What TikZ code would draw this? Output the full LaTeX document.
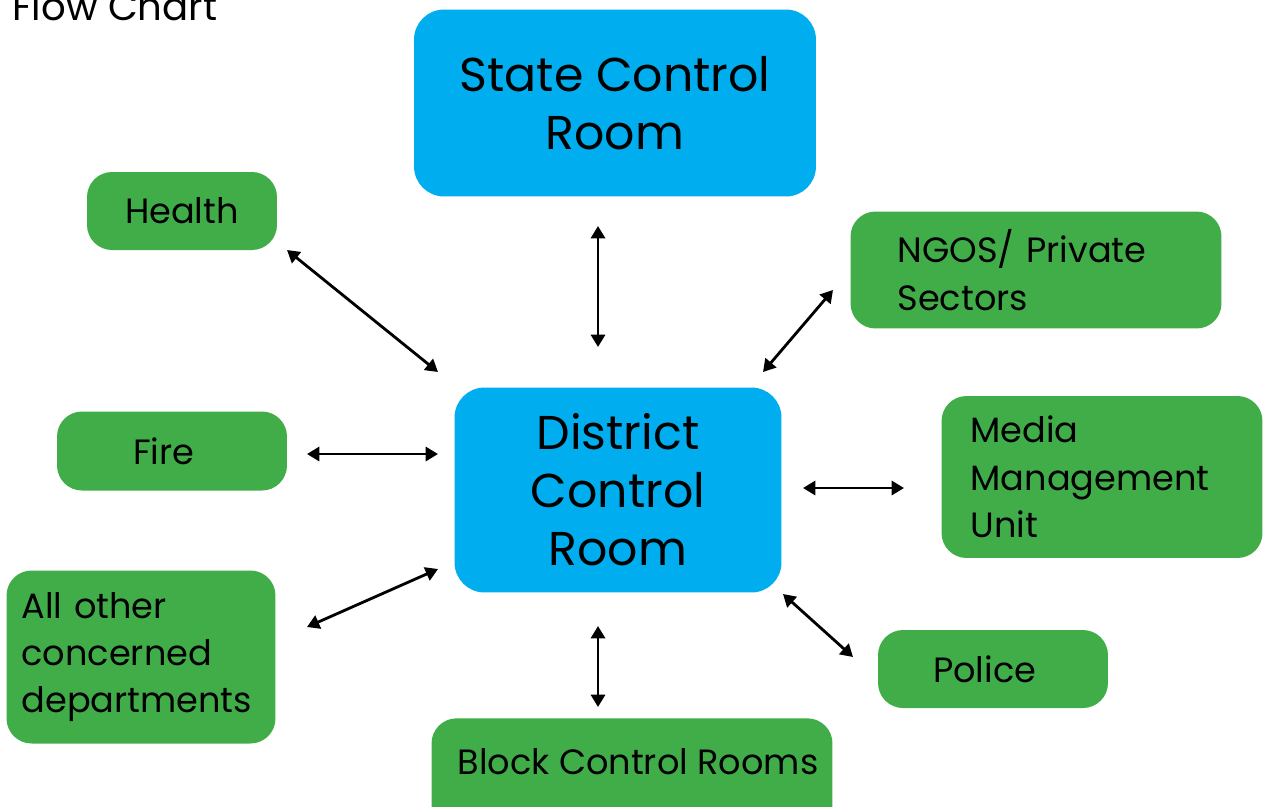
\documentclass[tikz,border=0pt]{standalone}
\usepackage{fontspec}
\setmainfont{Poppins}
\usetikzlibrary{arrows.meta}
\definecolor{roomblue}{RGB}{0,174,239}
\definecolor{deptgreen}{RGB}{65,173,73}
\tikzset{bignode/.style = {shape = rectangle,
                           fill = roomblue,
                           rounded corners = 0.6cm,
                           align = center,
                           font=\fontsize{27}{33}\selectfont},
         deptnode/.style = {shape = rectangle,
                            fill = deptgreen,
                            rounded corners = 0.5cm,
                            font=\fontsize{20}{27}\selectfont},
         link/.style = {{Triangle[width=8pt,length=7pt]}-{Triangle[width=8pt,length=7pt]},
                        line width=1.6pt}}
\begin{document}
\begin{tikzpicture}[x=0.02cm, y=-0.02cm]
		\useasboundingbox (0,0) rectangle (1264,806);
		\node[anchor=base west, font=\fontsize{22}{27}\selectfont, inner sep=0pt] (title) at (12,20) {Flow Chart};
		\node[bignode, minimum width=8.04cm, minimum height=3.74cm] (state) at (615,103) {State Control\\Room};
		\node[bignode, minimum width=6.54cm, minimum height=4.1cm] (district) at (618,490) {District\\Control\\Room};
		\node[deptnode, minimum width=3.8cm, minimum height=1.56cm, align=center] (health) at (182,211) {Health};
		\node[deptnode, minimum width=4.6cm, minimum height=1.58cm, text width=1.56cm, inner xsep=1.52cm, align=left] (fire) at (172,451) {Fire};
		\node[deptnode, minimum width=5.38cm, minimum height=3.46cm, text width=4.78cm, inner xsep=0.3cm, align=left] (other) at (141,657) {All other\\concerned\\departments};
		\node[deptnode, minimum width=7.42cm, minimum height=2.34cm, text width=5.54cm, inner xsep=0.94cm, align=left] (ngos) at (1036,270) {NGOS/ Private\\Sectors};
		\node[deptnode, minimum width=6.42cm, minimum height=3.24cm, text width=5.26cm, inner xsep=0.58cm, align=left] (media) at (1102,477) {Media\\Management\\Unit};
		\node[deptnode, minimum width=4.6cm, minimum height=1.56cm, text width=2.4cm, inner xsep=1.1cm, align=left] (police) at (993,669) {Police};
		\node[deptnode, minimum width=8.02cm, minimum height=2.24cm, align=center, anchor=north] (block) at (632,718) {};
		\node[font=\fontsize{20}{27}\selectfont] (blocktext) at (638,762) {Block Control Rooms};
		% arrow ends
		\coordinate (s1) at (598,226);
		\coordinate (s2) at (598,347);
		\coordinate (h1) at (287,250);
		\coordinate (h2) at (438,372);
		\coordinate (n1) at (833,290);
		\coordinate (n2) at (763,372);
		\coordinate (f1) at (307,454);
		\coordinate (f2) at (438,454);
		\coordinate (m1) at (803,488);
		\coordinate (m2) at (904,488);
		\coordinate (o1) at (307,627);
		\coordinate (o2) at (438,569);
		\coordinate (p1) at (783,594);
		\coordinate (p2) at (853,657);
		\coordinate (b1) at (598,626);
		\coordinate (b2) at (598,707);
		\path[link] (s1) edge (s2);
		\path[link] (h1) edge (h2);
		\path[link] (n1) edge (n2);
		\path[link] (f1) edge (f2);
		\path[link] (m1) edge (m2);
		\path[link] (o1) edge (o2);
		\path[link] (p1) edge (p2);
		\path[link] (b1) edge (b2);
	\end{tikzpicture}
\end{document}
